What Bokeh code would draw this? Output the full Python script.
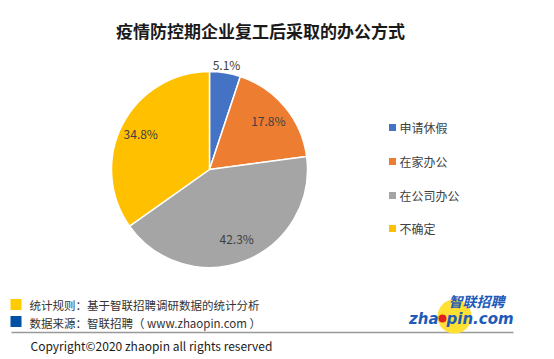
import math
from bokeh.plotting import figure
from bokeh.models import Range1d
from bokeh.core.properties import value
from bokeh.embed import file_html
from bokeh.resources import INLINE

title = "疫情防控期企业复工后采取的办公方式"
categories = ["申请休假", "在家办公", "在公司办公", "不确定"]
shares = [5.1, 17.8, 42.3, 34.8]
colors = ["#4472C4", "#ED7D31", "#A5A5A5", "#FFC000"]
note1 = "统计规则：基于智联招聘调研数据的统计分析"
note2 = "数据来源：智联招聘（ www.zhaopin.com ）"
copyright_text = "Copyright©2020 zhaopin all rights reserved"

FONT = "Noto Sans CJK SC"
W, H = 554, 359

p = figure(width=W, height=H, output_backend="svg", toolbar_location=None,
           x_range=Range1d(0, W), y_range=Range1d(0, H),
           min_border=0)
p.axis.visible = False
p.grid.visible = False
p.outline_line_color = None
p.background_fill_color = "white"

def Y(sy):
    return 359 - sy

# title
p.text([260], [Y(30)], text=[title], text_font=value(FONT), text_font_size="17px",
       text_font_style="bold", text_align="center", text_baseline="middle", text_color="#1a1a1a")

# pie
cx, cy, R = 209, Y(169), 98
total = sum(shares)
starts, ends, mids = [], [], []
acc = 0.0
for s in shares:
    a0 = math.pi / 2 - 2 * math.pi * acc / total
    acc += s
    a1 = math.pi / 2 - 2 * math.pi * acc / total
    starts.append(a1)
    ends.append(a0)
    mids.append((a0 + a1) / 2)
p.wedge(x=[cx] * 4, y=[cy] * 4, radius=R, start_angle=starts, end_angle=ends,
        fill_color=colors, line_color="white", line_width=1.5)

label_r = [1.09, 0.78, 0.76, 0.79]
lx = [cx + R * f * math.cos(m) for f, m in zip(label_r, mids)]
ly = [cy + R * f * math.sin(m) for f, m in zip(label_r, mids)]
p.text(lx, ly, text=[f"{s}%" for s in shares], text_font=value(FONT), text_font_size="12px",
       text_align="center", text_baseline="middle", text_color="#404040")

# legend
leg_y = [Y(127), Y(161), Y(195), Y(228)]
p.rect(x=[392] * 4, y=leg_y, width=7, height=7, fill_color=colors, line_color=None)
p.text([399] * 4, leg_y, text=categories, text_font=value(FONT), text_font_size="12px",
       text_align="left", text_baseline="middle", text_color="#404040")

# footer notes
p.rect(x=[15.5, 15.5], y=[Y(304), Y(321)], width=11, height=11,
       fill_color=["#FFCC00", "#0050A5"], line_color=None)
p.text([29, 29], [Y(304), Y(322)], text=[note1, note2], text_font=value(FONT),
       text_font_size="11.5px", text_align="left", text_baseline="middle", text_color="#333333")
p.line(x=[11, 513], y=[Y(332), Y(332)], line_color="#999999", line_width=1.5)
p.text([30], [Y(345)], text=[copyright_text], text_font=value(FONT), text_font_size="12px",
       text_align="left", text_baseline="middle", text_color="#1a1a1a")

# logo
p.scatter(x=[454], y=[Y(316)], size=34, fill_color="#FFE033", line_color=None)
p.scatter(x=[442], y=[Y(318)], size=8, fill_color="#E02020", line_color=None)
p.text([438], [Y(318)], text=["zha"], text_font=value("DejaVu Sans"), text_font_size="15px",
       text_font_style="bold italic", text_align="right", text_baseline="middle", text_color="#1E5BB8")
p.text([446], [Y(318)], text=["pin.com"], text_font=value("DejaVu Sans"), text_font_size="15px",
       text_font_style="bold italic", text_align="left", text_baseline="middle", text_color="#1E5BB8")
p.text([476], [Y(300)], text=["智联招聘"], text_font=value(FONT), text_font_size="14px",
       text_font_style="bold italic", text_align="center", text_baseline="middle", text_color="#1E5BB8")

open("out.html", "w").write(file_html(p, INLINE))
